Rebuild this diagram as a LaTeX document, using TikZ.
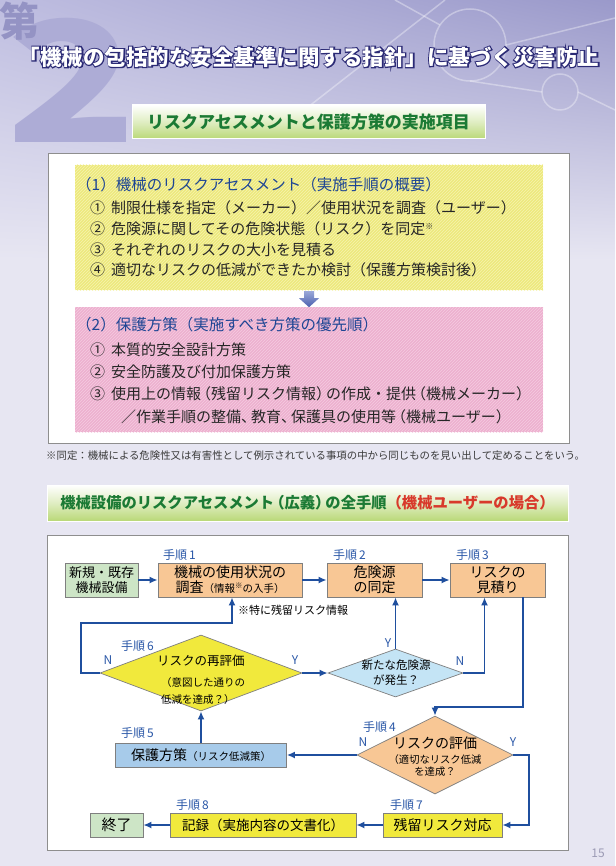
\documentclass[tikz,border=0pt]{standalone}
\usepackage{fontspec}
\setmainfont{Noto Sans CJK JP}
\newfontfamily\outlinefont[FakeBold=10]{Noto Sans CJK JP}
\usetikzlibrary{shapes.geometric,arrows.meta,calc,patterns,shadings}

\definecolor{pagebg}{HTML}{E7E6F2}
\definecolor{hdrleft}{HTML}{BEBDE0}
\definecolor{hdrright}{HTML}{9A99CA}
\definecolor{twocol}{HTML}{ADACD6}
\definecolor{daicol}{HTML}{9493C4}
\definecolor{titlenavy}{HTML}{2B2A75}
\definecolor{bargreen}{HTML}{B9D877}
\definecolor{bartext}{HTML}{1B7A34}
\definecolor{barred}{HTML}{D8392B}
\definecolor{panelgray}{HTML}{8E8E8E}
\definecolor{headblue}{HTML}{1D4594}
\definecolor{listyel}{HTML}{EDE97C}
\definecolor{listyelln}{HTML}{F6F3AF}
\definecolor{listpink}{HTML}{EDB0CF}
\definecolor{listpinkln}{HTML}{F5CCE1}
\definecolor{arrowtop}{HTML}{9AA8D8}
\definecolor{arrowbot}{HTML}{4A5FAE}
\definecolor{notegray}{HTML}{3A3A3A}
\definecolor{flowblue}{HTML}{1F4F9E}
\definecolor{lblblue}{HTML}{2B58A8}
\definecolor{boxgray}{HTML}{7F7F7F}
\definecolor{orng}{HTML}{F8C795}
\definecolor{grn}{HTML}{CDE5C6}
\definecolor{ltblue}{HTML}{A7CBEA}
\definecolor{dmblue}{HTML}{C4E4F5}
\definecolor{ylw}{HTML}{F1E93C}
\definecolor{pagenum}{HTML}{9C9BB5}

\newcommand{\fsz}[2]{\fontsize{#1}{#2}\selectfont}
\newcommand{\lpar}{\kern-5pt（}
\newcommand{\rpar}{）\kern-5pt}

\begin{document}
\begin{tikzpicture}[x=1pt,y=-1pt,
  flow/.style={draw=flowblue,line width=1.6pt,-{Latex[length=8pt,width=7pt]}},
  stepbox/.style={draw=boxgray,line width=0.7pt,inner sep=0pt,align=center,
    minimum height=34pt,font=\fsz{14}{15}},
  flatbox/.style={stepbox,minimum height=24pt},
  dbox/.style={diamond,draw=boxgray,line width=0.7pt,inner sep=0pt},
  steplbl/.style={anchor=west,inner sep=0pt,text=lblblue,font=\fsz{12}{12}},
  yn/.style={inner sep=0pt,text=lblblue,font=\fsz{12}{12}},
  listline/.style={anchor=west,inner sep=0pt,text=black!85,font=\fsz{15}{15}},
  listhead/.style={anchor=west,inner sep=0pt,text=headblue,font=\fsz{15.5}{15.5}},
  secbar/.style={draw=white,line width=1pt,top color=white,bottom color=bargreen,
    middle color=white!55!bargreen,inner sep=0pt,text=bartext,font=\bfseries\fsz{17}{17}},
  panel/.style={draw=panelgray,fill=white,line width=0.8pt,inner sep=0pt}]
  \useasboundingbox (0,0) rectangle (615,866);
  \fill[pagebg] (0,0) rectangle (615,866);
  \shade[upper left=hdrleft,upper right=hdrright,lower left=pagebg,lower right=pagebg]
    (0,0) rectangle (615,260);
  % network in the header
  \begin{scope}[draw=white,opacity=0.35,line width=1.5pt]
    \draw (470,45) circle (36);
    \draw (560,92) circle (18);
    \draw (285,125) -- (445,0);
    \draw (506,45) -- (615,18);
    \draw (470,81) -- (542,92);
    \draw (578,92) -- (615,110);
    \draw (395,0) -- (440,25);
  \end{scope}
  \node[text=twocol,font=\bfseries\fsz{168}{168},inner sep=0pt] (big2) at (72,80)
    {\scalebox{1.28}[1]{2}};
  \node[text=daicol,font=\bfseries\fsz{40}{40},inner sep=0pt] (dai) at (19,21) {第};
  \node[font=\outlinefont\bfseries\fsz{21.5}{21.5},text=titlenavy,inner sep=0pt] (titleback)
    at (309,57) {「機械の包括的な安全基準に関する指針」に基づく災害防止};
  \node[font=\bfseries\fsz{21.5}{21.5},text=white,inner sep=0pt] (title) at (titleback)
    {「機械の包括的な安全基準に関する指針」に基づく災害防止};

  % upper part
  \node[secbar,minimum width=353pt,minimum height=34pt] (bar1) at (308.5,122)
    {リスクアセスメントと保護方策の実施項目};
  \node[panel,minimum width=521pt,minimum height=290pt] (pan1) at (308.5,298) {};
  \node[fill=listyel,postaction={pattern=north east lines,pattern color=listyelln},
    minimum width=468pt,minimum height=125pt,inner sep=0pt] (yel) at (309,227.5) {};
  \node[fill=listpink,postaction={pattern=north east lines,pattern color=listpinkln},
    minimum width=468pt,minimum height=125pt,inner sep=0pt] (pink) at (309,369.5) {};
  \shade[top color=arrowtop,bottom color=arrowbot] ($(yel.south)+(-5,1)$) -- ++(10,0)
    -- ++(0,7) -- ++(5,0) -- ++(-10,9) -- ++(-10,-9) -- ++(5,0) -- cycle;

  \node[listhead] (yhead) at (76,185) {（1）機械のリスクアセスメント（実施手順の概要）};
  \foreach \i/\y/\txt in {1/208/{①\hspace{6pt}制限仕様を指定（メーカー）／使用状況を調査（ユーザー）},
      2/229/{②\hspace{6pt}危険源に関してその危険状態（リスク）を同定\raisebox{5pt}{\fsz{8}{8}※}},
      3/250/{③\hspace{6pt}それぞれのリスクの大小を見積る},
      4/270/{④\hspace{6pt}適切なリスクの低減ができたか検討（保護方策検討後）}}
    \node[listline] (yl\i) at (90,\y) {\txt};
  \node[listhead] (phead) at (76,325) {（2）保護方策（実施すべき方策の優先順）};
  \foreach \i/\x/\y/\txt in {1/90/350/{①\hspace{6pt}本質的安全設計方策},
      2/90/372/{②\hspace{6pt}安全防護及び付加保護方策},
      3/90/394/{③\hspace{6pt}使用上の情報\lpar 残留リスク情報\rpar の作成・提供\lpar 機械メーカー\rpar},
      4/121/417/{／作業手順の整備、\kern-5pt 教育、\kern-5pt 保護具の使用等\lpar 機械ユーザー\rpar}}
    \node[listline] (pl\i) at (\x,\y) {\txt};
  \node[anchor=west,inner sep=0pt,text=notegray,font=\fsz{10.4}{10.4}] (note) at (46,456)
    {※同定：機械による危険性又は有害性として例示されている事項の中から同じものを見い出して定めることをいう。};

  % lower part
  \node[secbar,minimum width=521pt,minimum height=36pt,font=\bfseries\fsz{15.3}{15.3}] (bar2)
    at (307.5,503) {機械設備のリスクアセスメント\lpar 広義\rpar の全手順{\color{barred}（機械ユーザーの場合）}};
  \node[panel,minimum width=521pt,minimum height=315pt] (pan2) at (307.5,692.5) {};

  \node[stepbox,fill=grn,minimum width=73pt,font=\fsz{13}{15}] (newold) at (101.5,580)
    {新規・既存\\機械設備};
  \node[stepbox,fill=orng,minimum width=144pt] (s1) at (230,580)
    {機械の使用状況の\\調査{\fsz{10.5}{10.5}（情報\raisebox{4pt}{\fsz{7.5}{7.5}※}の入手）}};
  \node[stepbox,fill=orng,minimum width=95pt] (s2) at (374.5,580) {危険源\\の同定};
  \node[stepbox,fill=orng,minimum width=95pt] (s3) at (497.5,580) {リスクの\\見積り};
  \node[dbox,fill=ylw,minimum width=202pt,minimum height=76pt] (d6) at (201,673) {};
  \node[dbox,fill=dmblue,minimum width=135pt,minimum height=48pt] (db) at (395.5,673) {};
  \node[dbox,fill=orng,minimum width=156pt,minimum height=78pt] (d4) at (435,755) {};
  \node[flatbox,fill=ltblue,minimum width=171pt] (s5) at (201,755)
    {保護方策{\fsz{10.5}{10.5}（リスク低減策）}};
  \node[flatbox,fill=ylw,minimum width=119pt] (s7) at (442.5,825) {残留リスク対応};
  \node[flatbox,fill=ylw,minimum width=186pt,font=\fsz{13.5}{13.5}] (s8) at (263,825)
    {記録（実施内容の文書化）};
  \node[flatbox,fill=grn,minimum width=53pt,font=\fsz{15}{15}] (fin) at (116.5,825) {終了};

  \node[align=left,inner sep=0pt,font=\fsz{10.5}{17}] (d6txt) at (203,680)
    {{\fsz{12.5}{12.5}\kern-4pt リスクの再評価}\\[4pt]（意図した通りの\\低減を達成？）};
  \node[align=center,inner sep=0pt,font=\fsz{11.5}{15}] (dbtxt) at (396,673)
    {新たな危険源\\が発生？};
  \node[align=center,inner sep=0pt,font=\fsz{10.3}{12}] (d4txt) at (435,757)
    {{\fsz{14}{14}リスクの評価}\\[3pt]（適切なリスク低減\\を達成？};
  \node[anchor=west,inner sep=0pt,font=\fsz{11}{11}] (note2) at (238,610) {※特に残留リスク情報};

  \foreach \n/\x/\y in {1/163/555,2/333/555,3/456/555,6/121/646,5/121/733,4/363/727,7/390/805,8/176/805}
    \node[steplbl] (l\n) at (\x,\y) {手順\hspace{2pt}\n};
  \foreach \nm/\x/\y/\lab in {n6/108/660/N,y6/295/660/Y,yb/388/643/Y,nb/460/661/N,n4/363/742/N,y4/513/742/Y}
    \node[yn] (\nm) at (\x,\y) {\lab};

  \coordinate (c6) at (81,623);
  \coordinate (c34) at (523,707);
  \coordinate (c47) at (529,825);
  \draw[flow] (newold) -- (s1);
  \draw[flow] (s1) -- (s2);
  \draw[flow] (s2) -- (s3);
  \draw[flow] (d6.west) -| (c6) -| ($(s1.south)+(2,0)$);
  \draw[flow] (d6.east) -- (db.west);
  \draw[flow] (db.north) -- (db.north |- s2.south);
  \draw[flow] (db.east) -| ($(s3.south)+(-13,0)$);
  \draw[flow] (c34 |- s3.south) -- (c34) -| (d4.north);
  \draw[flow] (d4.west) -- (s5.east);
  \draw[flow] (s5.north) -- (d6.south);
  \draw[flow] (d4.east) -| (c47) -- (s7.east);
  \draw[flow] (s7) -- (s8);
  \draw[flow] (s8) -- (fin);

  \node[text=pagenum,font=\fsz{12}{12}] (pgno) at (598,853) {15};
\end{tikzpicture}
\end{document}
